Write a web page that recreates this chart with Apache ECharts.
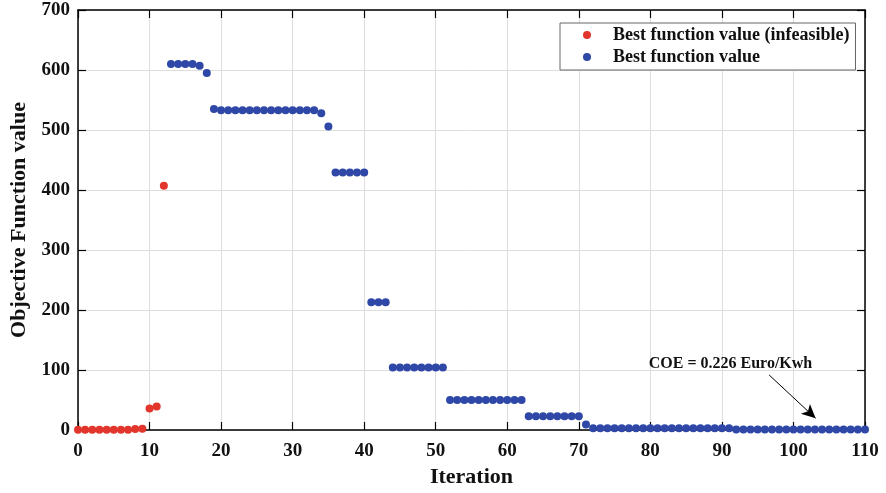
<!DOCTYPE html>
<html>
<head>
<meta charset="utf-8">
<script src="https://cdn.jsdelivr.net/npm/echarts@6/dist/echarts.min.js"></script>
<style>html,body{margin:0;padding:0;background:#fff}#c{width:886px;height:493px}</style>
</head>
<body>
<div id="c"></div>
<script>
// Data
const infeasibleIter = [0,1,2,3,4,5,6,7,8,9,10,11,12];
const infeasibleVal  = [0.5,0.5,0.5,0.5,0.5,0.5,0.5,0.5,1.5,2,36,39,407];

const feasibleIter = [13,14,15,16,17,18,19,20,21,22,23,24,25,26,27,28,29,30,31,32,33,34,35,36,37,38,39,40,
  41,42,43,44,45,46,47,48,49,50,51,52,53,54,55,56,57,58,59,60,61,62,63,64,65,66,67,68,69,70,71,
  72,73,74,75,76,77,78,79,80,81,82,83,84,85,86,87,88,89,90,91,92,93,94,95,96,97,98,99,100,101,102,
  103,104,105,106,107,108,109,110];
const feasibleVal = [610,610,610,610,607,595,535,533,533,533,533,533,533,533,533,533,533,533,533,533,533,528,506,
  429,429,429,429,429,213,213,213,104,104,104,104,104,104,104,104,
  50,50,50,50,50,50,50,50,50,50,50,23,23,23,23,23,23,23,23,9,
  3,3,3,3,3,3,3,3,3,3,3,3,3,3,3,3,3,3,3,3,
  1,1,1,1,1,1,1,1,1,1,1,1,1,1,1,1,1,1,1];

const xTicks = {min:0, max:110, interval:10};
const yTicks = {min:0, max:700, interval:100};
const seriesNames = ['Best function value (infeasible)', 'Best function value'];
const annotationText = 'COE = 0.226 Euro/Kwh';
const annotationTextAt = [91.2, 111];
const arrowFrom = [96.6, 91.7];
const arrowTo = [103.1, 19.5];

const FONT = '"Liberation Serif", "Times New Roman", serif';
const chart = echarts.init(document.getElementById('c'), null, {renderer:'canvas'});

const axisCommon = {
  axisLine:{show:true, onZero:false, lineStyle:{color:'#000', width:1.5}},
  axisTick:{show:true, inside:true, length:8, lineStyle:{color:'#000', width:1.2}},
};

chart.setOption({
  animation:false,
  backgroundColor:'#fff',
  grid:{left:78, right:21, top:10, bottom:63, containLabel:false},
  legend:{
    orient:'vertical', left:560, top:23,
    padding:[3,6,4,23], itemGap:4,
    borderColor:'#666', borderWidth:1, backgroundColor:'#fff',
    icon:'circle', itemWidth:36, itemHeight:8,
    textStyle:{fontFamily:FONT, fontWeight:'bold', fontSize:18, color:'#111', padding:[0,0,0,3]},
    data:seriesNames
  },
  xAxis:[
    Object.assign({type:'value', position:'bottom', min:xTicks.min, max:xTicks.max, interval:xTicks.interval,
      name:'Iteration', nameLocation:'middle', nameGap:36,
      nameTextStyle:{fontFamily:FONT, fontWeight:'bold', fontSize:22, color:'#111'},
      axisLabel:{fontFamily:FONT, fontWeight:'bold', fontSize:19, color:'#111', margin:12},
      splitLine:{show:true, lineStyle:{color:'#dedede', width:1}}}, axisCommon),
    Object.assign({type:'value', position:'top', min:xTicks.min, max:xTicks.max, interval:xTicks.interval,
      axisLabel:{show:false}, splitLine:{show:false}}, axisCommon)
  ],
  yAxis:[
    Object.assign({type:'value', position:'left', min:yTicks.min, max:yTicks.max, interval:yTicks.interval,
      name:'Objective Function value', nameLocation:'middle', nameGap:45, nameRotate:90,
      nameTextStyle:{fontFamily:FONT, fontWeight:'bold', fontSize:22, color:'#111'},
      axisLabel:{fontFamily:FONT, fontWeight:'bold', fontSize:19, color:'#111', margin:8},
      splitLine:{show:true, lineStyle:{color:'#dedede', width:1}}}, axisCommon),
    Object.assign({type:'value', position:'right', min:yTicks.min, max:yTicks.max, interval:yTicks.interval,
      axisLabel:{show:false}, splitLine:{show:false}}, axisCommon)
  ],
  series:[
    {
      name:seriesNames[0], type:'scatter', xAxisIndex:0, yAxisIndex:0, clip:false,
      symbolSize:8, itemStyle:{color:'#e2352b', opacity:1},
      data:infeasibleIter.map((x,i)=>[x, infeasibleVal[i]])
    },
    {
      name:seriesNames[1], type:'scatter', xAxisIndex:0, yAxisIndex:0, clip:false,
      symbolSize:8, itemStyle:{color:'#2f47a6', opacity:1},
      data:feasibleIter.map((x,i)=>[x, feasibleVal[i]]),
      markLine:{
        silent:true, animation:false,
        symbol:['none','arrow'], symbolSize:[10,14],
        lineStyle:{color:'#000', width:1, type:'solid'},
        label:{show:false},
        data:[[{coord:arrowFrom},{coord:arrowTo}]]
      },
      markPoint:{
        silent:true, animation:false,
        data:[{coord:annotationTextAt, symbol:'circle', symbolSize:0,
          label:{show:true, position:'inside', formatter:annotationText,
            fontFamily:FONT, fontWeight:'bold', fontSize:16, color:'#111'}}]
      }
    }
  ]
});
</script>
</body>
</html>
